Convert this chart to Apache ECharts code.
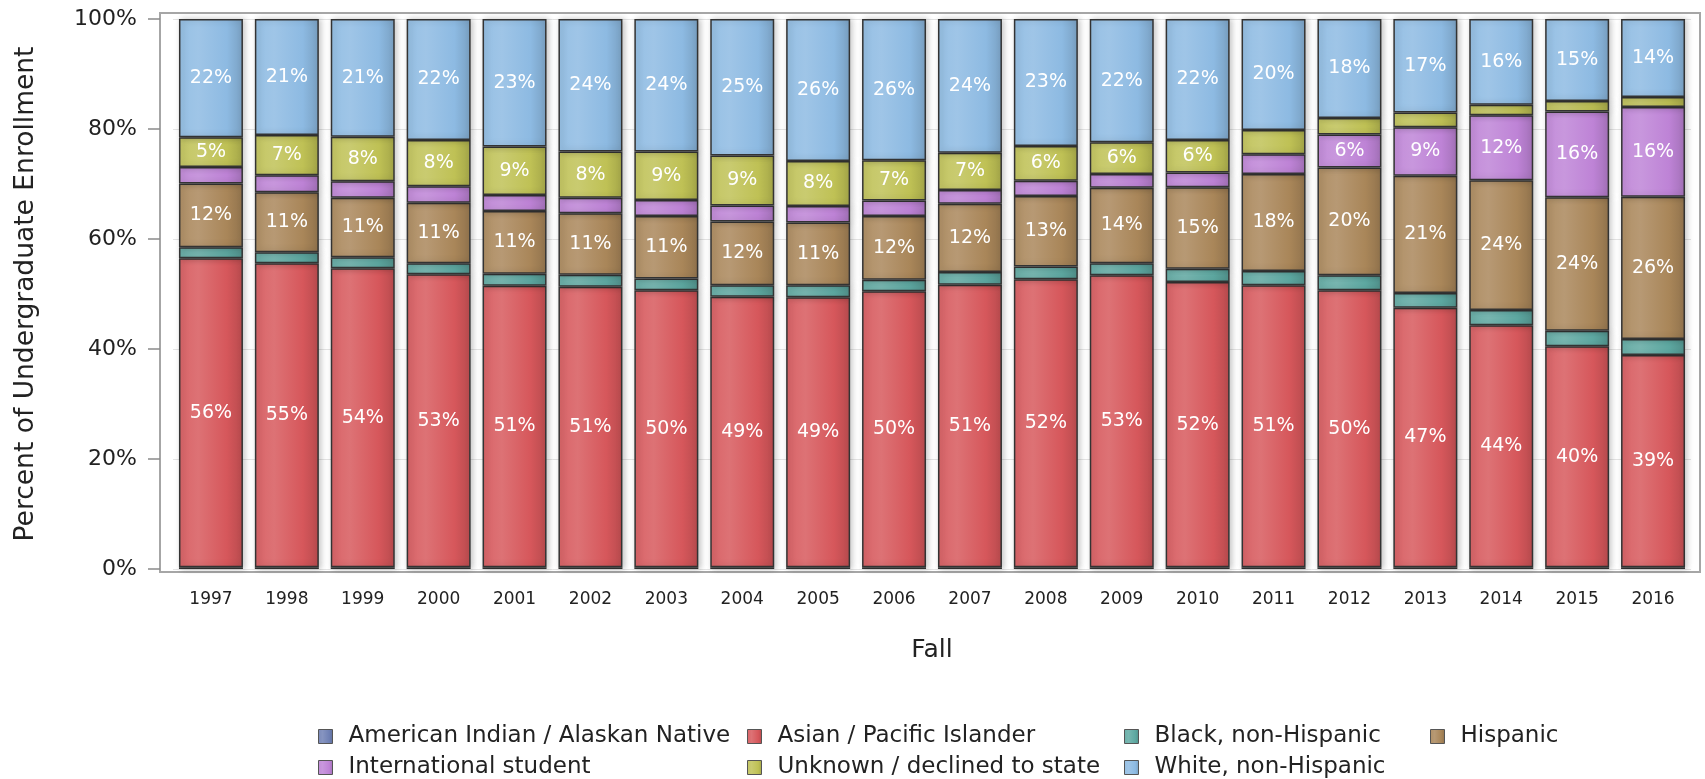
<!DOCTYPE html>
<html>
<head>
<meta charset="utf-8">
<script src="https://cdn.jsdelivr.net/npm/echarts@6/dist/echarts.min.js"></script>
<style>
  html, body { margin: 0; padding: 0; background: #fff; }
  #chart { width: 1705px; height: 779px; }
</style>
</head>
<body>
<div id="chart"></div>
<script>
// fall terms
var years = ['1997', '1998', '1999', '2000', '2001', '2002', '2003', '2004', '2005', '2006',
  '2007', '2008', '2009', '2010', '2011', '2012', '2013', '2014', '2015', '2016'];

// percent of undergraduate enrollment per group
var amerIndian = [0.3, 0.3, 0.3, 0.3, 0.3, 0.3, 0.3, 0.3, 0.3, 0.3,
  0.3, 0.3, 0.3, 0.3, 0.3, 0.3, 0.3, 0.3, 0.3, 0.3];
var asian = [56.2, 55.3, 54.4, 53.3, 51.2, 51.0, 50.4, 49.2, 49.1, 50.2,
  51.4, 52.4, 53.1, 51.9, 51.3, 50.4, 47.2, 44.0, 40.2, 38.6];
var black = [2.0, 2.0, 2.0, 2.0, 2.2, 2.2, 2.1, 2.1, 2.2, 2.1,
  2.3, 2.3, 2.2, 2.4, 2.6, 2.7, 2.7, 2.8, 2.8, 2.9];
var hispanic = [11.6, 10.9, 10.8, 11.0, 11.4, 11.2, 11.4, 11.6, 11.4, 11.6,
  12.4, 12.8, 13.7, 14.8, 17.6, 19.6, 21.3, 23.6, 24.3, 25.9];
var intl = [3.0, 3.1, 3.0, 3.0, 2.9, 2.8, 2.9, 2.9, 3.0, 2.8,
  2.5, 2.8, 2.5, 2.7, 3.6, 6.0, 8.8, 11.8, 15.6, 16.3];
var unknown = [5.4, 7.3, 8.1, 8.4, 8.8, 8.4, 8.8, 9.1, 8.2, 7.3,
  6.8, 6.3, 5.8, 5.9, 4.4, 3.0, 2.7, 1.9, 1.9, 1.8];
var white = [21.5, 21.1, 21.4, 22.0, 23.2, 24.1, 24.1, 24.8, 25.8, 25.7,
  24.3, 23.1, 22.4, 22.0, 20.2, 18.0, 17.0, 15.6, 14.9, 14.2];

var groups = [
  { name: 'American Indian / Alaskan Native', data: amerIndian, color: '#6f80b4' },
  { name: 'Asian / Pacific Islander', data: asian, color: '#d6575b' },
  { name: 'Black, non-Hispanic', data: black, color: '#5ea9a2' },
  { name: 'Hispanic', data: hispanic, color: '#a98659' },
  { name: 'International student', data: intl, color: '#be83d6' },
  { name: 'Unknown / declined to state', data: unknown, color: '#bfc155' },
  { name: 'White, non-Hispanic', data: white, color: '#8dbae2' }
];

var FONT = 'DejaVu Sans';

function shade(hex, amt) {
  var n = parseInt(hex.slice(1), 16);
  var r = (n >> 16) & 255, g = (n >> 8) & 255, b = n & 255;
  function f(c) {
    c = amt > 0 ? c + (255 - c) * amt : c * (1 + amt);
    return Math.round(Math.max(0, Math.min(255, c)));
  }
  return 'rgb(' + f(r) + ',' + f(g) + ',' + f(b) + ')';
}

function sheen(hex) {
  return new echarts.graphic.LinearGradient(0, 0, 1, 0, [
    { offset: 0, color: shade(hex, 0.08) },
    { offset: 0.3, color: shade(hex, 0.16) },
    { offset: 0.75, color: hex },
    { offset: 1, color: shade(hex, -0.14) }
  ]);
}

var chart = echarts.init(document.getElementById('chart'));

var series = groups.map(function (g) {
  return {
    name: g.name,
    type: 'bar',
    stack: 'total',
    barCategoryGap: '15.7%',
    data: g.data,
    itemStyle: {
      color: sheen(g.color),
      borderColor: '#333',
      borderWidth: 1.5,
      shadowColor: 'rgba(0,0,0,0.22)',
      shadowBlur: 6,
      shadowOffsetX: 2
    },
    label: {
      show: true,
      position: 'inside',
      color: '#fff',
      fontFamily: FONT,
      fontSize: 19,
      formatter: function (p) {
        return p.value >= 5 ? Math.round(p.value) + '%' : '';
      }
    }
  };
});

// one legend per entry, placed on the reference's 4-column grid
var legendPos = [
  { name: 'American Indian / Alaskan Native', left: 318, top: 725 },
  { name: 'Asian / Pacific Islander', left: 747, top: 725 },
  { name: 'Black, non-Hispanic', left: 1124, top: 725 },
  { name: 'Hispanic', left: 1430, top: 725 },
  { name: 'International student', left: 318, top: 756 },
  { name: 'Unknown / declined to state', left: 747, top: 756 },
  { name: 'White, non-Hispanic', left: 1124, top: 756 }
];

var legends = legendPos.map(function (c) {
  return {
    data: [c.name],
    left: c.left,
    top: c.top,
    padding: 0,
    icon: 'rect',
    itemWidth: 14,
    itemHeight: 14,
    selectedMode: false,
    itemStyle: { borderColor: '#555', borderWidth: 1 },
    textStyle: { fontFamily: FONT, fontSize: 23, color: '#222', padding: [0, 0, 0, 11] }
  };
});

var option = {
  animation: false,
  backgroundColor: '#fff',
  grid: { left: 173, right: 14, top: 19, bottom: 210 },
  legend: legends,
  graphic: [{
    type: 'rect',
    shape: { x: 160, y: 13, width: 1540, height: 559 },
    style: { fill: null, stroke: '#a6a6a6', lineWidth: 2 },
    z: 0
  }],
  xAxis: {
    type: 'category',
    data: years,
    offset: 3,
    name: 'Fall',
    nameLocation: 'middle',
    nameGap: 66,
    nameTextStyle: { fontFamily: FONT, fontSize: 25, color: '#222' },
    axisLine: { show: false },
    axisTick: { alignWithLabel: true, length: 10, lineStyle: { color: '#8a8a8a', width: 1.5 } },
    axisLabel: { fontFamily: FONT, fontSize: 17, color: '#222', margin: 19 }
  },
  yAxis: {
    type: 'value',
    min: 0,
    max: 100,
    interval: 20,
    offset: 13,
    name: 'Percent of Undergraduate Enrollment',
    nameLocation: 'middle',
    nameGap: 120,
    nameTextStyle: { fontFamily: FONT, fontSize: 26.5, color: '#222' },
    axisLine: { show: false },
    axisTick: { show: true, length: 12, lineStyle: { color: '#8a8a8a', width: 1.5 } },
    axisLabel: { fontFamily: FONT, fontSize: 22, color: '#222', margin: 23, formatter: '{value}%' },
    splitLine: { lineStyle: { color: '#e4e4e4', width: 1 } }
  },
  series: series
};

chart.setOption(option);
</script>
</body>
</html>
